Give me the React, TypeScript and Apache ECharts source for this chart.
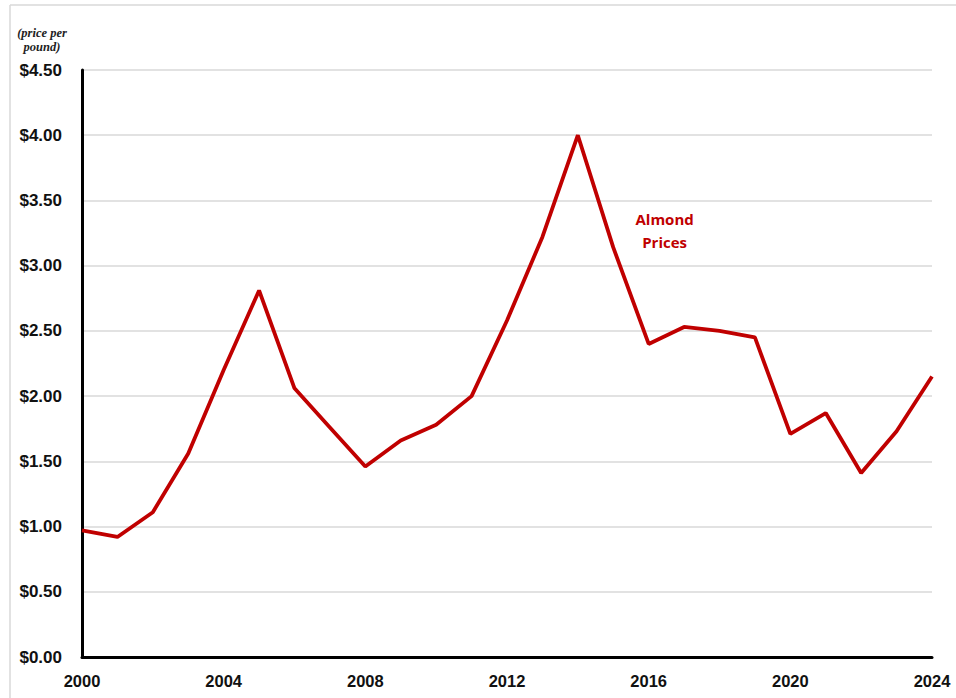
import React, { useEffect, useRef } from "react";
import * as echarts from "echarts";

const years: number[] = [2000, 2001, 2002, 2003, 2004, 2005, 2006, 2007, 2008, 2009, 2010, 2011, 2012, 2013, 2014, 2015, 2016, 2017, 2018, 2019, 2020, 2021, 2022, 2023, 2024];
const prices: number[] = [0.97, 0.92, 1.11, 1.56, 2.2, 2.81, 2.06, 1.76, 1.46, 1.66, 1.78, 2.0, 2.58, 3.22, 4.0, 3.14, 2.4, 2.53, 2.5, 2.45, 1.71, 1.87, 1.41, 1.73, 2.15];
const seriesName = "Almond Prices";
const unitLabel = "(price per\npound)";

export default function App() {
  const ref = useRef<HTMLDivElement>(null);
  useEffect(() => {
    if (!ref.current) return;
    document.body.style.margin = "0";
    document.body.style.overflow = "hidden";
    const chart = echarts.init(ref.current, undefined, { renderer: "svg" });
    const data = years.map((y, i) => [y, prices[i]]);
    chart.setOption({
      animation: false,
      backgroundColor: "#ffffff",
      grid: { left: 82, right: 24, top: 70, bottom: 41, containLabel: false },
      xAxis: {
        type: "value",
        min: 2000,
        max: 2024,
        interval: 4,
        axisLine: { show: true, lineStyle: { color: "#000", width: 3 } },
        axisTick: { show: false },
        splitLine: { show: false },
        axisLabel: {
          formatter: (v: number) => String(v),
          color: "#111",
          fontFamily: "Liberation Sans, Arial, sans-serif",
          fontWeight: "bold",
          fontSize: 16.5,
          margin: 15,
        },
      },
      yAxis: {
        type: "value",
        min: 0,
        max: 4.5,
        interval: 0.5,
        axisLine: { show: true, lineStyle: { color: "#000", width: 3 } },
        axisTick: { show: false },
        splitLine: { show: true, lineStyle: { color: "#d9d9d9", width: 1.5 } },
        axisLabel: {
          formatter: (v: number) => "$" + v.toFixed(2),
          color: "#111",
          fontFamily: "Liberation Sans, Arial, sans-serif",
          fontWeight: "bold",
          fontSize: 17,
          margin: 20,
        },
      },
      graphic: [
        { type: "line", shape: { x1: 10, y1: 5, x2: 956, y2: 5 }, style: { stroke: "#d9d9d9", lineWidth: 1.5 } },
        { type: "line", shape: { x1: 10, y1: 5, x2: 10, y2: 698 }, style: { stroke: "#d9d9d9", lineWidth: 1.5 } },
        {
          type: "text",
          x: 42,
          y: 26,
          style: {
            text: unitLabel,
            textAlign: "center",
            fill: "#222",
            font: "italic bold 12.5px 'Liberation Serif', 'Times New Roman', serif",
            lineHeight: 14,
          },
        },
      ],
      series: [
        {
          type: "line",
          name: seriesName,
          data,
          symbol: "none",
          lineStyle: { color: "#c00000", width: 3.8 },
          markPoint: {
            symbol: "rect",
            symbolSize: 1,
            itemStyle: { color: "transparent" },
            label: {
              show: true,
              formatter: "Almond\nPrices",
              color: "#c00000",
              fontFamily: "'Open Sans', 'Noto Sans', sans-serif",
              fontWeight: "bold",
              fontSize: 15,
              lineHeight: 23,
              align: "center",
              verticalAlign: "middle",
            },
            data: [{ coord: [2016.45, 3.27] }],
          },
        },
      ],
    });
    return () => chart.dispose();
  }, []);
  return (
    <div ref={ref} style={{ position: "fixed", left: 0, top: 0, width: 956, height: 698 }} />
  );
}
